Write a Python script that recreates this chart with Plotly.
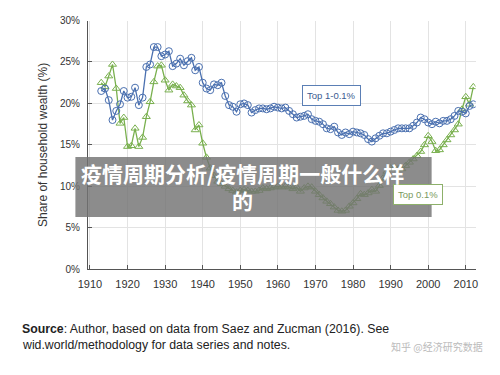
import plotly.graph_objects as go

years = list(range(1913, 2013))

top1_01 = [
    21.5, 21.8, 20.4, 18.0, 19.1, 19.9, 21.5, 20.7, 20.8, 21.9,
    19.8, 20.7, 24.4, 24.7, 26.8, 26.8, 25.7, 25.9, 26.3, 24.5,
    24.8, 25.4, 24.6, 25.1, 25.5, 24.0, 24.4, 22.5, 21.8, 21.6,
    22.3, 22.2, 22.5, 20.9, 19.8, 19.6, 19.0, 19.9, 20.0, 19.8,
    18.9, 19.2, 19.4, 19.4, 19.3, 19.4, 19.6, 19.5, 19.4, 19.5,
    19.1, 18.7, 18.3, 18.4, 18.5, 18.7, 18.1, 17.9, 17.8, 17.5,
    17.0, 16.9, 17.2, 16.5, 16.2, 16.5, 16.3, 16.6, 16.5, 16.4,
    16.2, 15.7, 15.4, 15.8, 16.1, 16.4, 16.4, 16.6, 16.8, 17.0,
    17.0, 17.0, 17.0, 17.3, 17.7, 18.3, 18.1, 17.7, 17.5, 17.8,
    17.6, 17.9, 17.9, 18.1, 18.5, 19.1, 19.0, 18.8, 19.7, 19.9,
]

top01 = [
    22.5, 22.0, 23.3, 24.7, 21.8, 17.6, 18.3, 14.8, 14.9, 17.0,
    14.8, 15.9, 18.4, 20.2, 22.6, 24.5, 24.6, 22.8, 21.6, 22.3,
    22.1, 21.9, 21.0, 20.3, 19.8, 16.8, 17.4, 15.2, 13.5, 12.2,
    11.3, 10.6, 10.3, 10.0, 9.7, 9.5, 9.3, 9.5, 9.6, 9.5,
    9.4, 9.4, 9.5, 9.8, 9.7, 9.8, 9.9, 10.0, 9.9, 10.0,
    9.9, 9.7, 9.9, 9.4, 9.8, 10.0, 9.9, 9.4, 9.0, 8.6,
    8.2, 7.9, 7.5, 7.1, 7.0, 7.1, 7.6, 8.0, 8.5, 9.1,
    9.0, 9.2, 9.6, 9.4, 10.1, 11.0, 11.8, 12.2, 12.3, 12.1,
    12.1, 12.5, 12.9, 13.3, 13.7, 14.2, 15.0, 16.1, 15.4, 14.3,
    14.4, 15.0, 15.6, 16.2, 16.8, 17.5, 19.3, 20.8, 19.9, 22.0,
]

x_ticks = list(range(1910, 2011, 10))
y_ticks = [0, 5, 10, 15, 20, 25, 30]
y_labels = [f"{v}%" for v in y_ticks]

BLUE = "#4a70b0"
GREEN = "#79b04e"

fig = go.Figure()
fig.add_trace(go.Scatter(
    x=years, y=top01, mode="lines+markers", name="Top 0.1%",
    line=dict(color=GREEN, width=1.3),
    marker=dict(symbol="triangle-up-open", size=7, color=GREEN, line=dict(width=1)),
))
fig.add_trace(go.Scatter(
    x=years, y=top1_01, mode="lines+markers", name="Top 1-0.1%",
    line=dict(color=BLUE, width=1.3),
    marker=dict(symbol="circle-open", size=7, color=BLUE, line=dict(width=1)),
))

W, H = 500, 375
def px(x): return x / W
def py(y): return 1 - y / H

fig.update_layout(
    width=W, height=H,
    margin=dict(l=0, r=0, t=0, b=0),
    paper_bgcolor="white", plot_bgcolor="white",
    showlegend=False,
    font=dict(family="Liberation Sans, Arial, sans-serif", color="#333", size=10),
    xaxis=dict(
        domain=[px(80), px(477)], range=[1909.5, 2012.6],
        tickvals=x_ticks, ticktext=[str(v) for v in x_ticks],
        showgrid=True, gridcolor="#e3e3e3", gridwidth=1,
        showline=True, linecolor="#555", linewidth=1.2,
        ticks="inside", ticklen=4, tickcolor="#555",
        tickfont=dict(size=11, color="#333"), zeroline=False,
        ticklabelstandoff=4,
    ),
    yaxis=dict(
        domain=[py(272), py(15)], range=[0, 30],
        tickvals=y_ticks, ticktext=y_labels,
        showgrid=True, gridcolor="#e3e3e3", gridwidth=1,
        showline=True, linecolor="#555", linewidth=1.2,
        ticks="inside", ticklen=4, tickcolor="#555",
        tickfont=dict(size=10, color="#333"), zeroline=False,
        ticklabelstandoff=5,
        title=dict(text="Share of household wealth (%)", font=dict(size=12, color="#333"), standoff=9),
    ),
)

fig.add_annotation(
    x=1974.4, y=20.9, xref="x", yref="y", text="Top 1-0.1%", showarrow=False,
    font=dict(size=9.5, color="#3a5a90"), bordercolor="#5b7fb5", borderwidth=1,
    borderpad=4, bgcolor="white",
)
fig.add_annotation(
    x=1997.3, y=9.0, xref="x", yref="y", text="Top 0.1%", showarrow=False,
    font=dict(size=9.5, color="#7a9a60"), bordercolor="#8db06a", borderwidth=1,
    borderpad=4, bgcolor="white",
)

# grey overlay banner
fig.add_shape(
    type="rect", xref="paper", yref="paper",
    x0=px(67), x1=px(432), y0=py(218), y1=py(156),
    fillcolor="rgba(115,115,115,0.82)", line=dict(width=0), layer="above",
)
fig.add_annotation(
    x=px(238), y=py(186), xref="paper", yref="paper", xanchor="center", yanchor="middle",
    text="<b>疫情周期分析/疫情周期一般什么样</b><br><b>的</b>", showarrow=False,
    align="center",
    font=dict(family="Noto Sans CJK SC", size=21, color="white"),
)

fig.add_annotation(
    x=px(10), y=py(334), xref="paper", yref="paper", xanchor="left", yanchor="middle",
    text="<b>Source</b>: Author, based on data from Saez and Zucman (2016). See",
    showarrow=False, font=dict(size=12.3, color="#222"),
)
fig.add_annotation(
    x=px(10), y=py(350), xref="paper", yref="paper", xanchor="left", yanchor="middle",
    text="wid.world/methodology for data series and notes.",
    showarrow=False, font=dict(size=12.3, color="#222"),
)
fig.add_annotation(
    x=px(487), y=py(352), xref="paper", yref="paper", xanchor="right", yanchor="middle",
    text="知乎 @经济研究数据", showarrow=False,
    font=dict(family="Noto Sans CJK SC", size=10, color="#bbbbbb"),
)

fig.write_html("out.html")
